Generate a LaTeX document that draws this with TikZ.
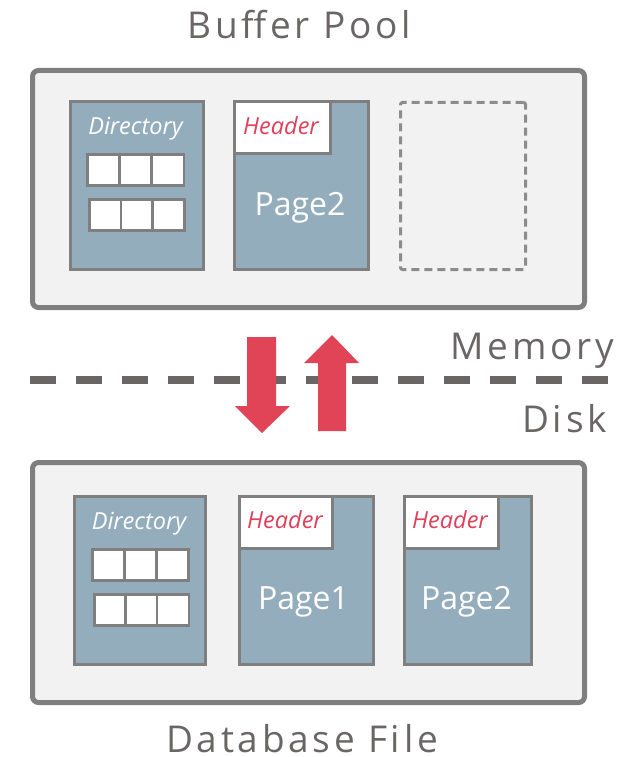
\documentclass[tikz,border=0pt]{standalone}
\usepackage{fontspec}
\setmainfont{Open Sans}

\definecolor{framegray}{HTML}{7F7F7F}
\definecolor{poolbg}{HTML}{F2F2F2}
\definecolor{pageblue}{HTML}{94ADBD}
\definecolor{hdrred}{HTML}{E0405A}
\definecolor{arrowred}{HTML}{E04456}
\definecolor{labelgray}{HTML}{6A6666}

\begin{document}
\begin{tikzpicture}[x=1pt,y=-1pt]
\tikzstyle{every node}+=[inner sep=0pt]
\tikzstyle{pool}=[draw=framegray, line width=5pt, fill=poolbg, rounded corners=6pt]
\tikzstyle{page}=[draw=framegray, line width=3pt, fill=pageblue, anchor=north west]
\tikzstyle{hdr}=[draw=framegray, line width=3pt, fill=white, anchor=north west]
\tikzstyle{cell}=[draw=framegray, line width=2.5pt, fill=white, anchor=north west, minimum width=32pt, minimum height=31pt]
\tikzstyle{hdrtext}=[anchor=base, text=hdrred, font=\fontsize{23.5}{25}\selectfont\itshape]
\tikzstyle{dirtext}=[anchor=base, text=white, font=\fontsize{23.5}{25}\selectfont\itshape]
\tikzstyle{pagetext}=[anchor=base, text=white, font=\fontsize{32}{34}\selectfont]
\tikzstyle{title}=[anchor=base, text=labelgray, font=\fontsize{37}{40}\selectfont\addfontfeature{LetterSpace=10}]
\useasboundingbox (0,0) rectangle (633,757);

% memory side
\node [title] (bptitle) at (299,39) {Buffer Pool};
\node [pool, minimum width=552pt, minimum height=237pt, anchor=north west] (pool) at (30,68) {};
\node [page, minimum width=133pt, minimum height=168pt] (mdir) at (69,100) {};
\node [dirtext] (mdirlbl) at (135.5,135) {Directory};
\foreach \i in {0,1,2} {
  \node [cell] (mca\i) at (86+\i*32.3,153) {};
  \node [cell] (mcb\i) at (88+\i*31.7,198) {};
}
\node [page, minimum width=134pt, minimum height=168pt] (mpg) at (233,100) {};
\node [hdr, minimum width=96pt, minimum height=52pt] (mhdr) at (233,100) {};
\node [hdrtext] (mhdrlbl) at (281,135) {Header};
\node [pagetext] (mpglbl) at (300,215) {Page2};
\node [draw=framegray!90, line width=3pt, dash pattern=on 8pt off 5pt, rounded corners=2pt,
  minimum width=125pt, minimum height=167pt, anchor=north west] (mfree) at (399,101) {};

% boundary
\draw [labelgray, line width=8pt, dash pattern=on 26pt off 20pt] (30,380) -- (620,380);
\node [title, anchor=base east] (memlbl) at (614,359) {Memory};
\node [title, anchor=base east] (disklbl) at (607,432) {Disk};
\fill [arrowred] (247,337) -- (276,337) -- (276,406) -- (290,406) -- (262,433)
  -- (235,406) -- (247,406) -- cycle;
\fill [arrowred] (318,431) -- (346,431) -- (346,363) -- (359,363) -- (332,335)
  -- (304,363) -- (318,363) -- cycle;

% disk side
\node [pool, minimum width=552pt, minimum height=240pt, anchor=north west] (dbfile) at (30,460) {};
\node [page, minimum width=131pt, minimum height=168pt] (ddir) at (73,495) {};
\node [dirtext] (ddirlbl) at (139,529) {Directory};
\foreach \i in {0,1,2} {
  \node [cell] (dca\i) at (91+\i*32,548) {};
  \node [cell] (dcb\i) at (93+\i*31.3,593) {};
}
\node [page, minimum width=134pt, minimum height=168pt] (dpga) at (238,495) {};
\node [hdr, minimum width=93pt, minimum height=52pt] (dhdra) at (238,495) {};
\node [hdrtext] (dhdralbl) at (285,528) {Header};
\node [pagetext] (dpgalbl) at (303.5,609) {Page1};
\node [page, minimum width=127pt, minimum height=168pt] (dpgb) at (403,495) {};
\node [hdr, minimum width=94pt, minimum height=52pt] (dhdrb) at (403,495) {};
\node [hdrtext] (dhdrblbl) at (450,528) {Header};
\node [pagetext] (dpgblbl) at (466.5,609) {Page2};
\node [title, text depth=0pt] (dbtitle) at (302,752) {Database File};
\end{tikzpicture}
\end{document}
